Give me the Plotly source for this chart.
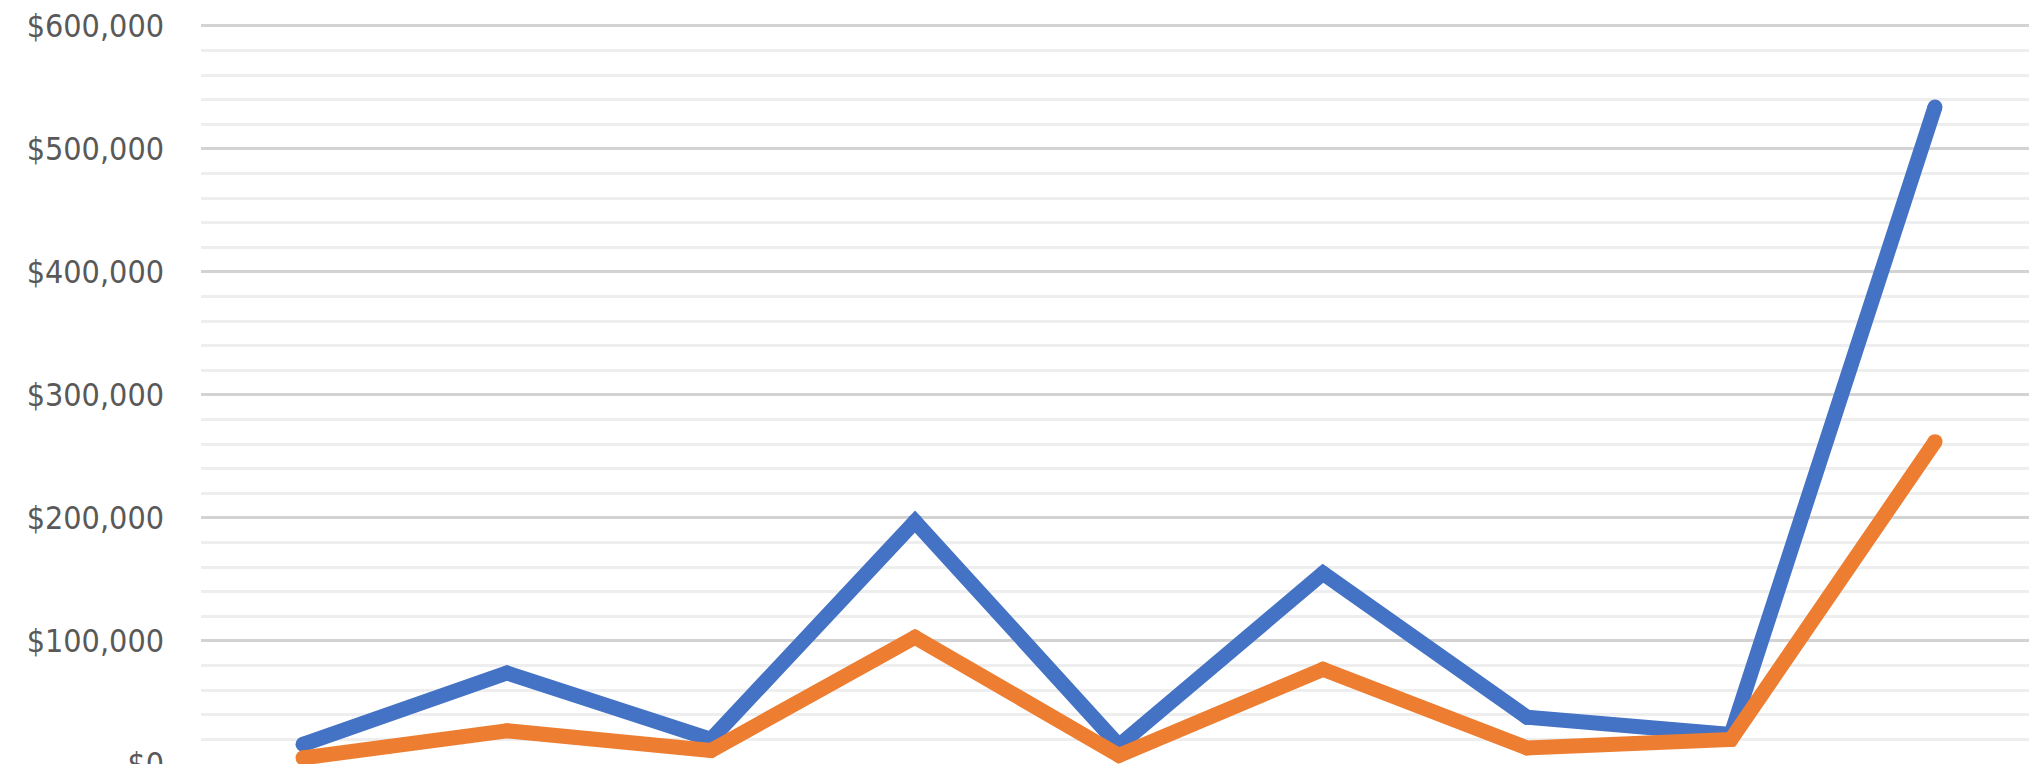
import plotly.graph_objects as go

categories = ["1", "2", "3", "4", "5", "6", "7", "8", "9"]
series_blue = [16000, 74000, 20000, 197000, 15000, 155000, 38000, 24000, 534000]
series_orange = [5000, 27000, 11000, 103000, 7000, 77000, 13000, 20000, 262000]
y_tickvals = [0, 100000, 200000, 300000, 400000, 500000, 600000]
y_ticktext = ["$0", "$100,000", "$200,000", "$300,000", "$400,000", "$500,000", "$600,000"]

LW = 15
# the page body adds an 8px offset; size the figure so the plot lands where the reference has it
OFF = 8

fig = go.Figure()
for vals, col, nm in [(series_blue, "#4472C4", "Series 1"), (series_orange, "#ED7D31", "Series 2")]:
    fig.add_trace(go.Scatter(x=categories, y=vals, mode="lines+markers",
                             line=dict(color=col, width=LW),
                             marker=dict(color=col, size=LW, line=dict(width=0)),
                             name=nm, hoverinfo="skip", cliponaxis=False))

fig.update_layout(
    width=2037 - OFF, height=764 - OFF,
    margin=dict(l=201 - OFF, r=0, t=24 - OFF, b=0, pad=0, autoexpand=False),
    paper_bgcolor="white", plot_bgcolor="white",
    showlegend=False,
    font=dict(family="DejaVu Sans Condensed, sans-serif",
              color="#595959", size=32),
)
fig.update_xaxes(type="category", range=[-0.5, 8.5], showgrid=False, showticklabels=False,
                 showline=False, zeroline=False, ticks="", automargin=False)
fig.update_yaxes(range=[0, 601500], tickvals=y_tickvals, ticktext=y_ticktext,
                 showgrid=True, gridcolor="#d3d3d3", gridwidth=3,
                 zeroline=False, showline=False, ticks="", automargin=False,
                 ticklabelstandoff=36, ticklabeloverflow="allow",
                 minor=dict(dtick=20000, tick0=0, showgrid=True, gridcolor="#eeeeee", gridwidth=3))

fig.write_html("out.html")
